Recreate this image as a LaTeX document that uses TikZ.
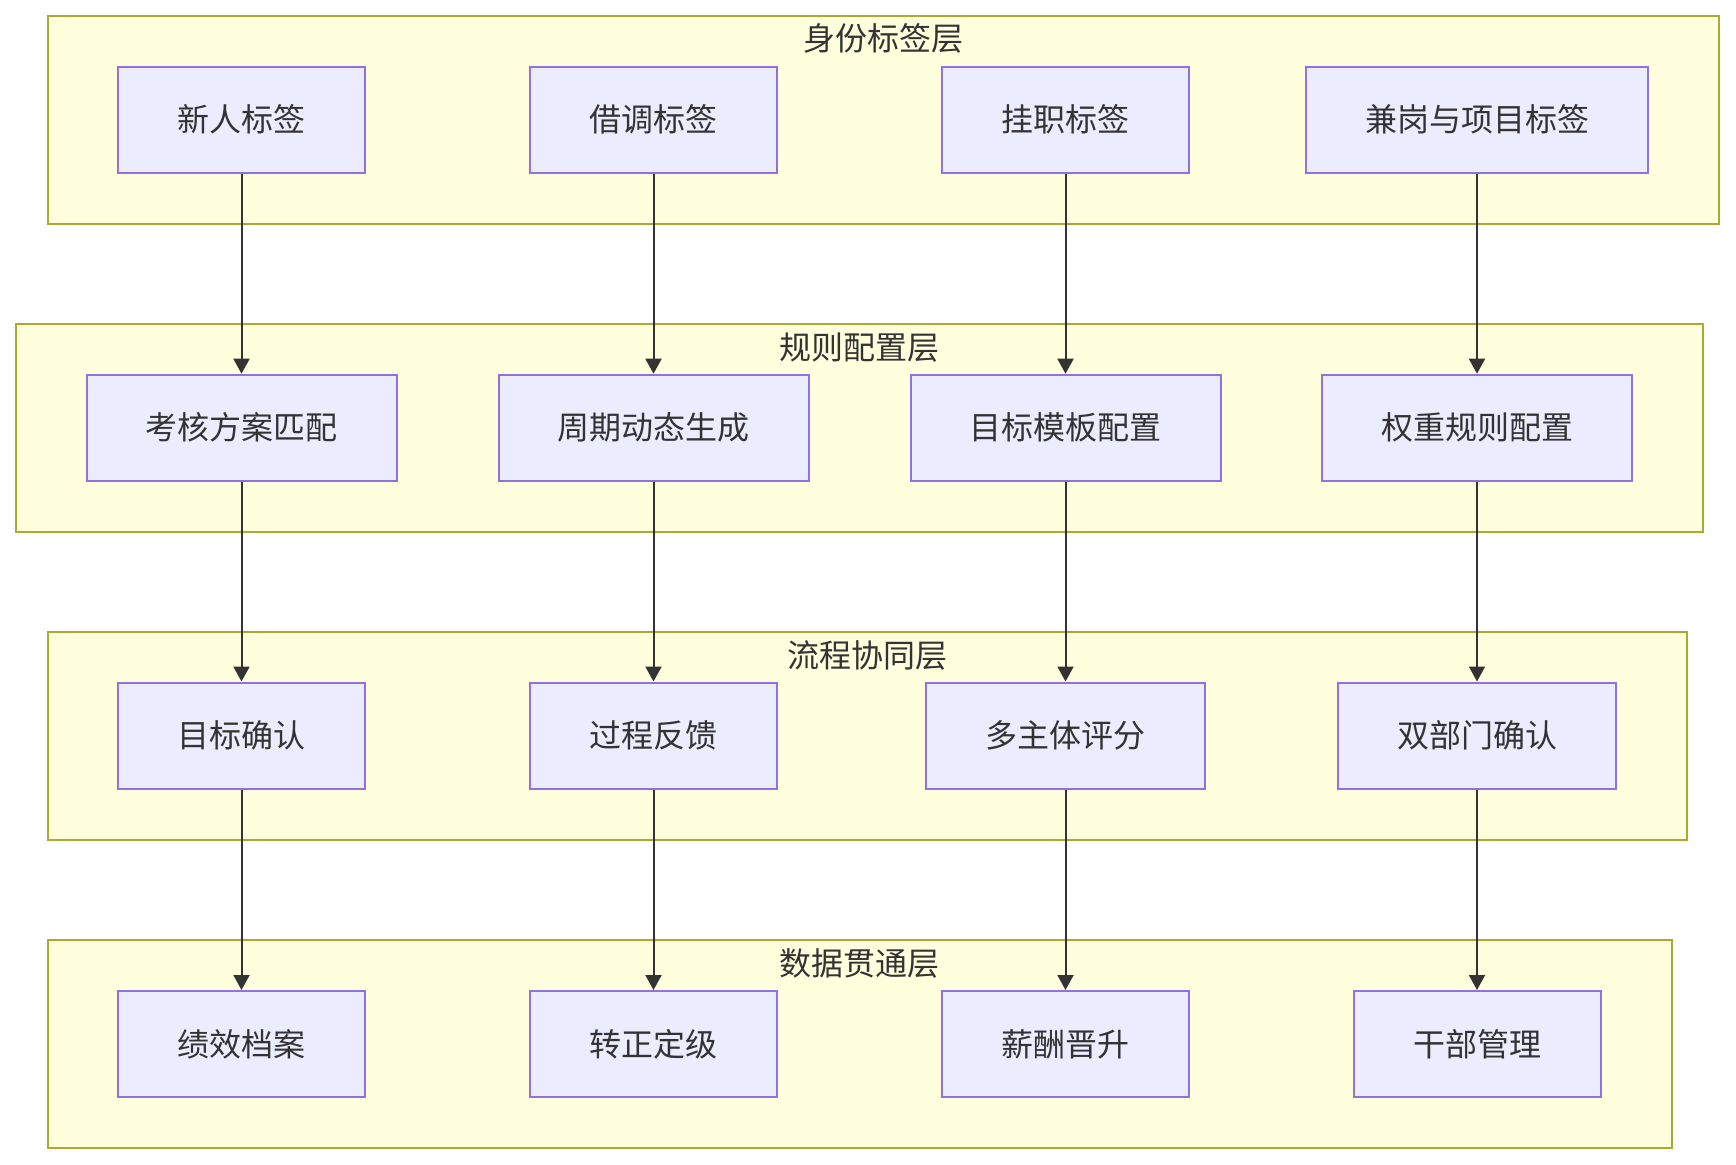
\documentclass[tikz,border=0pt]{standalone}
\usepackage{fontspec}
\setmainfont{Noto Sans CJK SC}
\usetikzlibrary{arrows.meta}
\definecolor{layerfill}{HTML}{FFFFDE}
\definecolor{layerdraw}{HTML}{AAAA33}
\definecolor{nodefill}{HTML}{ECECFF}
\definecolor{nodedraw}{HTML}{9370DB}
\definecolor{txt}{HTML}{333333}
\begin{document}
\begin{tikzpicture}[x=1pt,y=-1pt,
  layerbox/.style={fill=layerfill,draw=layerdraw,line width=2pt},
  proc/.style={rectangle,fill=nodefill,draw=nodedraw,line width=2pt,minimum height=106pt,inner sep=0pt,font=\fontsize{32}{38}\selectfont,text=txt},
  ltitle/.style={font=\fontsize{32}{38}\selectfont,text=txt,inner sep=0pt},
  flow/.style={draw=txt,line width=2pt,-{Triangle[length=15pt,width=16pt]}}]
\useasboundingbox[fill=white] (0,0) rectangle (1736,1164);
% layers
\path[layerbox] (47.6,15.7) rectangle (1719.3,223.6);
\path[layerbox] (15.5,323.7) rectangle (1703,531.5);
\path[layerbox] (47.6,631.5) rectangle (1687.2,839.5);
\path[layerbox] (47.6,940) rectangle (1671.7,1147.7);
\node[ltitle] (t1) at (883.5,38.8) {身份标签层};
\node[ltitle] (t2) at (859.3,347.5) {规则配置层};
\node[ltitle] (t3) at (867.4,655.5) {流程协同层};
\node[ltitle] (t4) at (859.7,963.5) {数据贯通层};
% row 1
\node[proc,minimum width=247pt] (a1) at (241.5,119.7) {新人标签};
\node[proc,minimum width=247pt] (a2) at (653.5,119.7) {借调标签};
\node[proc,minimum width=247pt] (a3) at (1065.5,119.7) {挂职标签};
\node[proc,minimum width=342pt] (a4) at (1477,119.7) {兼岗与项目标签};
% row 2
\node[proc,minimum width=310pt] (b1) at (241.5,427.7) {考核方案匹配};
\node[proc,minimum width=310pt] (b2) at (653.5,427.7) {周期动态生成};
\node[proc,minimum width=310pt] (b3) at (1065.5,427.7) {目标模板配置};
\node[proc,minimum width=310pt] (b4) at (1477,427.7) {权重规则配置};
% row 3
\node[proc,minimum width=247pt] (c1) at (241.5,735.5) {目标确认};
\node[proc,minimum width=247pt] (c2) at (653.5,735.5) {过程反馈};
\node[proc,minimum width=279pt] (c3) at (1065.5,735.5) {多主体评分};
\node[proc,minimum width=278pt] (c4) at (1477,735.5) {双部门确认};
% row 4
\node[proc,minimum width=247pt] (d1) at (241.5,1044) {绩效档案};
\node[proc,minimum width=247pt] (d2) at (653.5,1044) {转正定级};
\node[proc,minimum width=247pt] (d3) at (1065.5,1044) {薪酬晋升};
\node[proc,minimum width=247pt] (d4) at (1477,1044) {干部管理};
% connectors
\foreach \u/\v in {a1/b1,a2/b2,a3/b3,a4/b4,b1/c1,b2/c2,b3/c3,b4/c4,c1/d1,c2/d2,c3/d3,c4/d4}
  \draw[flow] (\u.south) -- (\v.north);
\end{tikzpicture}
\end{document}
